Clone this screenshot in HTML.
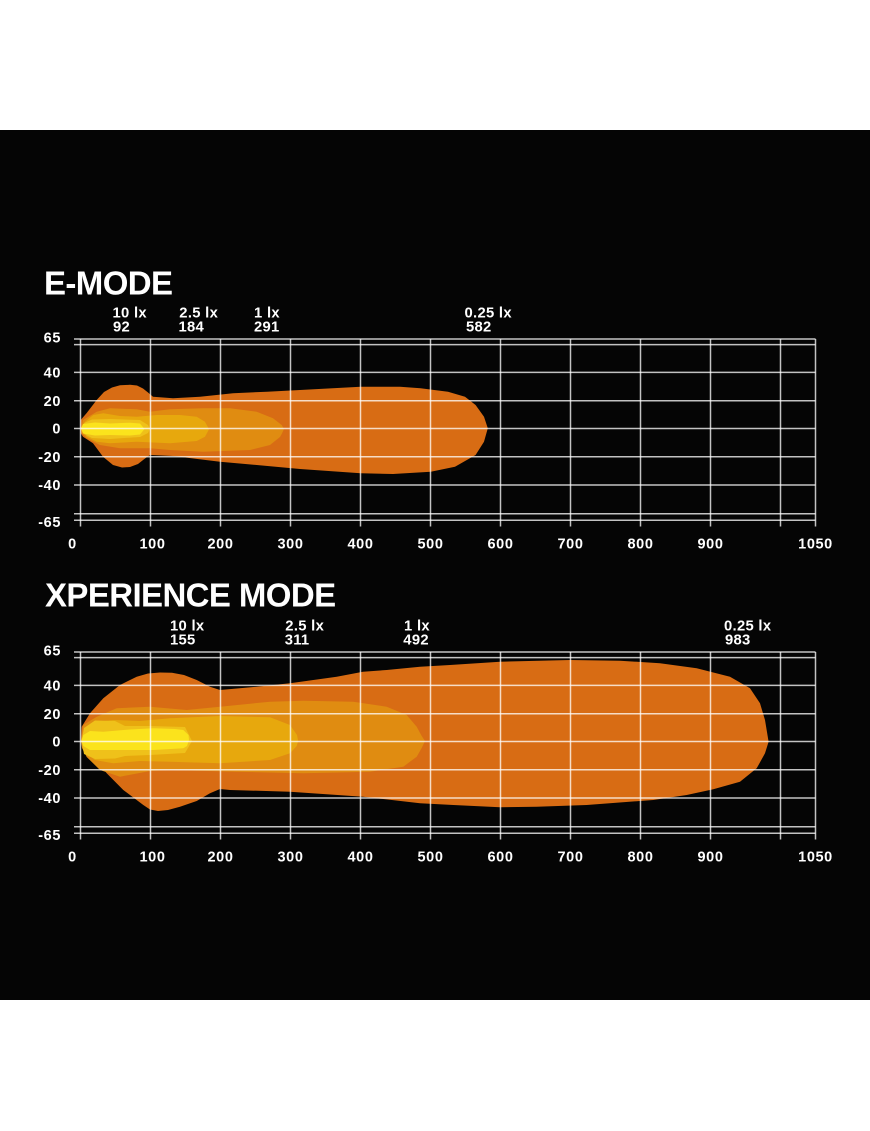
<!DOCTYPE html>
<html>
<head>
<meta charset="utf-8">
<style>
  html,body{margin:0;padding:0;background:#fff;}
  svg{display:block;}
  text{font-family:"Liberation Sans",Arial,sans-serif;font-weight:bold;fill:#fff;}
  .ttl{font-size:33px;letter-spacing:-0.6px;}
  .lux{font-size:14.8px;letter-spacing:0.3px;}
  .yl{font-size:14.5px;letter-spacing:0.6px;text-anchor:end;}
  .xl{font-size:14.5px;letter-spacing:0.6px;text-anchor:middle;}
  .grid line{stroke:#fff;stroke-opacity:0.76;stroke-width:1.5;}
</style>
</head>
<body>
<svg width="870" height="1131" viewBox="0 0 870 1131" xmlns="http://www.w3.org/2000/svg">
  <rect x="0" y="0" width="870" height="1131" fill="#ffffff"/>
  <rect x="0" y="130" width="870" height="870" fill="#050505"/>

  <!-- ================= E-MODE ================= -->
  <text class="ttl" x="44" y="294.5">E-MODE</text>

  <text class="lux" x="112.5" y="317.3">10 lx</text>
  <text class="lux" x="113" y="331.7">92</text>
  <text class="lux" x="179.3" y="317.3">2.5 lx</text>
  <text class="lux" x="178.5" y="331.7">184</text>
  <text class="lux" x="254" y="317.3">1 lx</text>
  <text class="lux" x="254" y="331.7">291</text>
  <text class="lux" x="464.5" y="317.3">0.25 lx</text>
  <text class="lux" x="466" y="331.7">582</text>

  <!-- beam E-mode -->
  <path fill="#d86c14" d="M80.5,428 L80.7,420 L86.7,413 L96.7,400 L104,392 L112,387.5 L120,385.3 L130,384.8 L137,385.5 L143,388.5 L148,392.5 L153,396.7 L173,398.3 L200,396.7 L233,393.3 L267,391.7 L300,390 L360.6,386.7 L400,386.7 L420.5,388.3 L448,391.7 L465,396.7 L475.6,405 L484,416.7 L487.8,428.3 L484,441.7 L475.6,455 L455,466.7 L430.8,471.7 L393,474 L360.6,473.3 L300,469 L220,461.7 L173,456 L150,455 L145,458.5 L138,464 L130,467 L122,467.5 L113,465 L103,456.7 L93,443.3 L83,436.7 L80.7,433 Z"/>
  <path fill="#e08c11" d="M81,428 L83,420 L96.7,411.7 L110,408.3 L136.7,409.3 L150,411.7 L170,409.3 L203,408.3 L230,408.3 L256.7,411.7 L273,418.3 L281.7,425 L284,429 L281.7,434 L280,437 L270,445 L250,450 L203,451.7 L170,450 L150,448.3 L120,448.3 L100,445 L86.7,438.3 L81.7,433.3 Z"/>
  <path fill="#e7a80d" d="M81.5,428 L85,421.7 L93.3,415 L103.3,413.3 L120,416 L136.7,416.7 L156.7,415 L180,415 L196.7,416.7 L205,421.7 L209,429.3 L205,436.7 L196.7,441 L170,443.3 L136.7,441.7 L110,443.3 L96.7,441.7 L86.7,436.7 Z"/>
  <path fill="#efc11a" d="M81.5,428 L84,423 L92,419.5 L110,419 L140,420 L148,425 L150,429 L148,433 L140,437 L110,439 L92,438 L84,434 Z"/>
  <path fill="#fbe31c" d="M81,428.5 L83,424 L95,422.5 L110,423.5 L130,422.7 L140,423.5 L144.5,429 L140,434.5 L130,435.5 L110,435 L95,435.5 L83,433.5 Z"/>

  <!-- grid E-mode -->
  <g class="grid">
    <line x1="74" y1="339" x2="815.5" y2="339"/>
    <line x1="74" y1="344.6" x2="815.5" y2="344.6"/>
    <line x1="74" y1="372.4" x2="815.5" y2="372.4"/>
    <line x1="74" y1="400.8" x2="815.5" y2="400.8"/>
    <line x1="74" y1="428.5" x2="815.5" y2="428.5"/>
    <line x1="74" y1="456.8" x2="815.5" y2="456.8"/>
    <line x1="74" y1="485" x2="815.5" y2="485"/>
    <line x1="74" y1="513.8" x2="815.5" y2="513.8"/>
    <line x1="74" y1="520.3" x2="815.5" y2="520.3"/>
    <line x1="80.5" y1="339" x2="80.5" y2="526.5"/>
    <line x1="150.5" y1="339" x2="150.5" y2="526.5"/>
    <line x1="220.5" y1="339" x2="220.5" y2="526.5"/>
    <line x1="290.5" y1="339" x2="290.5" y2="526.5"/>
    <line x1="360.5" y1="339" x2="360.5" y2="526.5"/>
    <line x1="430.5" y1="339" x2="430.5" y2="526.5"/>
    <line x1="500.5" y1="339" x2="500.5" y2="526.5"/>
    <line x1="570.5" y1="339" x2="570.5" y2="526.5"/>
    <line x1="640.5" y1="339" x2="640.5" y2="526.5"/>
    <line x1="710.5" y1="339" x2="710.5" y2="526.5"/>
    <line x1="780.5" y1="339" x2="780.5" y2="526.5"/>
    <line x1="815.5" y1="339" x2="815.5" y2="526.5"/>
  </g>

  <text class="yl" x="61" y="342.5">65</text>
  <text class="yl" x="61" y="377.4">40</text>
  <text class="yl" x="61" y="406.2">20</text>
  <text class="yl" x="61" y="433.7">0</text>
  <text class="yl" x="61" y="462.2">-20</text>
  <text class="yl" x="61" y="490.2">-40</text>
  <text class="yl" x="61" y="527.2">-65</text>

  <text class="xl" x="72.5" y="548.5">0</text>
  <text class="xl" x="152.5" y="548.5">100</text>
  <text class="xl" x="220.5" y="548.5">200</text>
  <text class="xl" x="290.5" y="548.5">300</text>
  <text class="xl" x="360.5" y="548.5">400</text>
  <text class="xl" x="430.5" y="548.5">500</text>
  <text class="xl" x="500.5" y="548.5">600</text>
  <text class="xl" x="570.5" y="548.5">700</text>
  <text class="xl" x="640.5" y="548.5">800</text>
  <text class="xl" x="710.5" y="548.5">900</text>
  <text class="xl" x="815.5" y="548.5">1050</text>

  <!-- ================= XPERIENCE MODE ================= -->
  <text class="ttl" x="45" y="606.5">XPERIENCE MODE</text>

  <text class="lux" x="170" y="630.3">10 lx</text>
  <text class="lux" x="170" y="644.5">155</text>
  <text class="lux" x="285.3" y="630.3">2.5 lx</text>
  <text class="lux" x="284.7" y="644.5">311</text>
  <text class="lux" x="404" y="630.3">1 lx</text>
  <text class="lux" x="403.3" y="644.5">492</text>
  <text class="lux" x="724" y="630.3">0.25 lx</text>
  <text class="lux" x="725" y="644.5">983</text>

  <!-- beam Xperience -->
  <path fill="#d86c14" d="M81,741.5 L81.7,726.7 L90,713.3 L103.3,698.3 L120,685 L136.7,676.7 L148,673.5 L160,672.5 L172,672.8 L184,675 L196.7,680 L210,686.7 L220,690 L256.7,686.7 L290,683.3 L336.7,676.7 L363,671.7 L386.7,670 L420,666.7 L450,665 L500,661.7 L570,660 L620,660.7 L660,663.3 L696.7,668.3 L730,676.7 L750,688.3 L760,703.3 L765,720 L768.6,741.7 L765,753.3 L756.7,768.3 L740,781.7 L713.3,789.3 L686.7,795 L653.3,800 L586.7,805 L536.7,806.7 L500,807.3 L453.3,805 L420,803.3 L363,796.7 L290,791.7 L230,790 L220,789 L210,793.3 L196.7,801 L180,806.7 L168,810 L158,811 L150,809.5 L143.3,805 L123.3,790 L106.7,773.3 L93.3,756.7 L83.3,746.7 Z"/>
  <path fill="#e08c11" d="M81,741 L83.3,725 L96.7,716.7 L116.7,708.3 L150,706.7 L186.7,710 L220,706.7 L270,701.7 L303.3,700.7 L353.3,701.7 L386.7,706.7 L406.7,715 L416.7,726.7 L421.7,736 L425,741 L421.7,748 L416.7,756.7 L403.3,766.7 L370,771.7 L303.3,773.3 L236.7,771.7 L170,770 L150,771 L120,776.7 L100,770 L86.7,757 L82,748 Z"/>
  <path fill="#e7a80d" d="M82,741 L85,730 L95,722 L113.3,720 L140,721 L170,718.3 L220,716 L270,717.3 L290,725 L297,735 L298.2,741 L296.7,746 L290,753.3 L270,760 L220,763.3 L170,761.7 L140,761 L113.3,763.3 L95,760 L85,752 Z"/>
  <path fill="#efc11a" d="M81.5,741 L84,728 L95,720.5 L115,721 L125,726 L150,726 L185,727 L192,741 L185,753 L150,755 L125,756 L115,758.5 L95,759 L84,754 Z"/>
  <path fill="#fbe31c" d="M81.5,741 L83.3,735 L90,731 L103.3,731.7 L130,729.5 L153.3,728.3 L175,729 L183.3,730 L188.5,735 L189,740 L187,746 L183.3,748.3 L153.3,750 L130,750 L103.3,750 L90,750 L83.3,746 Z"/>

  <!-- grid Xperience -->
  <g class="grid" transform="translate(0,313)">
    <line x1="74" y1="339" x2="815.5" y2="339"/>
    <line x1="74" y1="344.6" x2="815.5" y2="344.6"/>
    <line x1="74" y1="372.4" x2="815.5" y2="372.4"/>
    <line x1="74" y1="400.8" x2="815.5" y2="400.8"/>
    <line x1="74" y1="428.5" x2="815.5" y2="428.5"/>
    <line x1="74" y1="456.8" x2="815.5" y2="456.8"/>
    <line x1="74" y1="485" x2="815.5" y2="485"/>
    <line x1="74" y1="513.8" x2="815.5" y2="513.8"/>
    <line x1="74" y1="520.3" x2="815.5" y2="520.3"/>
    <line x1="80.5" y1="339" x2="80.5" y2="526.5"/>
    <line x1="150.5" y1="339" x2="150.5" y2="526.5"/>
    <line x1="220.5" y1="339" x2="220.5" y2="526.5"/>
    <line x1="290.5" y1="339" x2="290.5" y2="526.5"/>
    <line x1="360.5" y1="339" x2="360.5" y2="526.5"/>
    <line x1="430.5" y1="339" x2="430.5" y2="526.5"/>
    <line x1="500.5" y1="339" x2="500.5" y2="526.5"/>
    <line x1="570.5" y1="339" x2="570.5" y2="526.5"/>
    <line x1="640.5" y1="339" x2="640.5" y2="526.5"/>
    <line x1="710.5" y1="339" x2="710.5" y2="526.5"/>
    <line x1="780.5" y1="339" x2="780.5" y2="526.5"/>
    <line x1="815.5" y1="339" x2="815.5" y2="526.5"/>
  </g>

  <g transform="translate(0,313)">
    <text class="yl" x="61" y="342.5">65</text>
    <text class="yl" x="61" y="377.4">40</text>
    <text class="yl" x="61" y="406.2">20</text>
    <text class="yl" x="61" y="433.7">0</text>
    <text class="yl" x="61" y="462.2">-20</text>
    <text class="yl" x="61" y="490.2">-40</text>
    <text class="yl" x="61" y="527.2">-65</text>

    <text class="xl" x="72.5" y="548.5">0</text>
    <text class="xl" x="152.5" y="548.5">100</text>
    <text class="xl" x="220.5" y="548.5">200</text>
    <text class="xl" x="290.5" y="548.5">300</text>
    <text class="xl" x="360.5" y="548.5">400</text>
    <text class="xl" x="430.5" y="548.5">500</text>
    <text class="xl" x="500.5" y="548.5">600</text>
    <text class="xl" x="570.5" y="548.5">700</text>
    <text class="xl" x="640.5" y="548.5">800</text>
    <text class="xl" x="710.5" y="548.5">900</text>
    <text class="xl" x="815.5" y="548.5">1050</text>
  </g>
</svg>
</body>
</html>
